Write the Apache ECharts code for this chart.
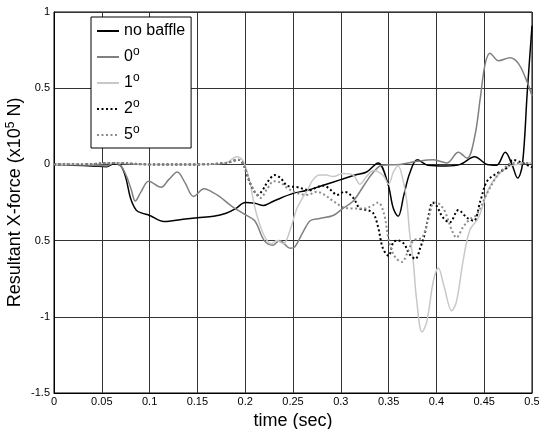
<!DOCTYPE html>
<html>
<head>
<meta charset="utf-8">
<script src="https://cdn.jsdelivr.net/npm/echarts@6/dist/echarts.min.js"></script>
<style>html,body{margin:0;padding:0;background:#fff}#c{width:539px;height:429px}</style>
</head>
<body>
<div id="c"></div>
<script>
// ---- data ----
const xTickLabels = ['0','0.05','0.1','0.15','0.2','0.25','0.3','0.35','0.4','0.45','0.5'];
const yTickLabels = ['-1.5','-1','0.5','0','0.5','1'];
const seriesNames = ['no baffle','0°','1°','2°','5°'];

const noBaffleT = [0,0.02,0.04,0.055,0.063,0.07,0.075,0.08,0.086,0.092,0.1,0.115,0.135,0.15,0.167,0.18,0.19,0.2,0.21,0.219,0.23,0.25,0.265,0.28,0.3,0.315,0.327,0.339,0.349,0.355,0.36,0.366,0.372,0.38,0.391,0.41,0.425,0.44,0.453,0.463,0.472,0.479,0.485,0.49,0.495,0.5];
const noBaffleV = [0,-0.005,-0.01,-0.015,0.005,-0.01,-0.085,-0.22,-0.3,-0.32,-0.335,-0.375,-0.36,-0.35,-0.34,-0.32,-0.29,-0.25,-0.255,-0.27,-0.24,-0.19,-0.17,-0.14,-0.1,-0.07,-0.05,0.01,-0.12,-0.29,-0.34,-0.2,-0.06,0.03,-0.005,-0.01,0,0.05,0,-0.005,0.08,0,-0.09,0,0.47,0.91];

const deg0T = [0,0.02,0.04,0.055,0.063,0.07,0.076,0.081,0.085,0.091,0.099,0.112,0.12,0.129,0.137,0.146,0.157,0.165,0.173,0.185,0.2,0.21,0.22,0.229,0.236,0.247,0.252,0.26,0.268,0.278,0.292,0.302,0.313,0.324,0.333,0.343,0.362,0.38,0.397,0.411,0.423,0.432,0.44,0.446,0.451,0.456,0.465,0.477,0.486,0.495,0.5];
const deg0V = [0,0,-0.005,-0.01,0.01,-0.01,-0.08,-0.17,-0.24,-0.18,-0.11,-0.15,-0.1,-0.05,-0.12,-0.21,-0.16,-0.18,-0.21,-0.27,-0.33,-0.37,-0.5,-0.53,-0.5,-0.55,-0.54,-0.45,-0.37,-0.355,-0.335,-0.29,-0.24,-0.14,-0.06,-0.005,0,0.02,0.03,0.01,0.08,0.04,0.18,0.44,0.66,0.73,0.68,0.7,0.66,0.54,0.45];

const deg1T = [0,0.03,0.063,0.1,0.15,0.18,0.191,0.198,0.205,0.209,0.213,0.22,0.227,0.233,0.24,0.247,0.254,0.26,0.265,0.271,0.278,0.285,0.292,0.302,0.313,0.32,0.327,0.334,0.344,0.35,0.355,0.36,0.365,0.369,0.372,0.376,0.379,0.385,0.39,0.397,0.402,0.408,0.416,0.421,0.428,0.435,0.444,0.454,0.463,0.474,0.485,0.5];
const deg1V = [0,0,0.01,0,0,0.01,0.05,0.02,-0.12,-0.25,-0.35,-0.47,-0.52,-0.5,-0.52,-0.43,-0.29,-0.22,-0.17,-0.1,-0.07,-0.07,-0.08,-0.06,-0.07,-0.13,-0.08,-0.04,-0.07,-0.13,-0.05,-0.01,-0.1,-0.24,-0.45,-0.65,-0.87,-1.1,-1.03,-0.76,-0.68,-0.8,-0.96,-0.9,-0.63,-0.43,-0.35,-0.17,-0.08,-0.02,0,0.01];

const deg2T = [0,0.03,0.063,0.1,0.15,0.18,0.193,0.198,0.203,0.208,0.213,0.218,0.224,0.231,0.237,0.244,0.255,0.268,0.275,0.282,0.29,0.296,0.304,0.313,0.32,0.328,0.334,0.339,0.344,0.35,0.355,0.36,0.366,0.372,0.378,0.383,0.388,0.392,0.396,0.4,0.407,0.414,0.423,0.432,0.439,0.446,0.453,0.463,0.474,0.48,0.49,0.5];
const deg2V = [0,0,0.01,0,0,0.01,0.03,0,-0.09,-0.16,-0.2,-0.17,-0.11,-0.07,-0.09,-0.14,-0.15,-0.17,-0.15,-0.14,-0.17,-0.2,-0.18,-0.22,-0.29,-0.3,-0.32,-0.41,-0.55,-0.6,-0.51,-0.5,-0.52,-0.59,-0.62,-0.55,-0.45,-0.33,-0.25,-0.27,-0.35,-0.38,-0.3,-0.35,-0.37,-0.24,-0.11,-0.06,-0.02,0.03,0.01,-0.02];

const deg5T = [0,0.03,0.063,0.1,0.15,0.18,0.193,0.198,0.204,0.21,0.216,0.223,0.23,0.237,0.245,0.255,0.265,0.275,0.283,0.292,0.302,0.313,0.324,0.333,0.339,0.345,0.351,0.357,0.364,0.369,0.376,0.385,0.391,0.398,0.403,0.409,0.416,0.421,0.428,0.435,0.442,0.453,0.463,0.47,0.48,0.49,0.5];
const deg5V = [0,0,0.01,0,0,0.01,0.03,0,-0.1,-0.18,-0.22,-0.16,-0.11,-0.12,-0.16,-0.19,-0.2,-0.18,-0.2,-0.24,-0.28,-0.29,-0.29,-0.27,-0.25,-0.32,-0.52,-0.61,-0.64,-0.59,-0.5,-0.48,-0.37,-0.25,-0.26,-0.31,-0.43,-0.48,-0.41,-0.36,-0.33,-0.19,-0.08,-0.03,0.01,0.01,0.01];

const xMin = 0, xMax = 0.5, xStep = 0.05;
const yMin = -1.5, yMax = 1, yStep = 0.5;

// ---- chart ----
const zip = (t, v) => t.map((x, i) => [x, v[i]]);
const FONT = '"Liberation Sans", Arial, sans-serif';
const chart = echarts.init(document.getElementById('c'), null, {renderer: 'canvas'});

const styles = [
  {color: '#000000', width: 1.5, type: 'solid'},
  {color: '#808080', width: 1.5, type: 'solid'},
  {color: '#c8c8c8', width: 1.5, type: 'solid'},
  {color: '#000000', width: 2, type: [2, 2.5]},
  {color: '#8c8c8c', width: 2, type: [2, 2.5]}
];
const datasets = [zip(noBaffleT, noBaffleV), zip(deg0T, deg0V), zip(deg1T, deg1V), zip(deg2T, deg2V), zip(deg5T, deg5V)];

chart.setOption({
  animation: false,
  backgroundColor: '#fff',
  grid: {left: 54, right: 7, top: 12, bottom: 36, show: true, borderColor: '#000', borderWidth: 1,
         containLabel: false, outerBoundsMode: 'none'},
  legend: {
    orient: 'vertical', left: 91, top: 17,
    padding: [6, 6, 5, 5], itemGap: 7, itemWidth: 22, itemHeight: 14,
    backgroundColor: '#fff', borderColor: '#000', borderWidth: 1, borderRadius: 0,
    itemStyle: {opacity: 0},
    data: seriesNames,
    formatter: n => n.endsWith('°') ? '{n|' + n.slice(0, -1) + '}{s|o}' : '{n|' + n + '}',
    textStyle: {
      fontFamily: FONT, fontSize: 16, color: '#000',
      rich: {
        n: {fontFamily: FONT, fontSize: 16, color: '#000', lineHeight: 22},
        s: {fontFamily: FONT, fontSize: 12, color: '#000', lineHeight: 11, verticalAlign: 'top'}
      }
    }
  },
  xAxis: {
    type: 'value', min: xMin, max: xMax, interval: xStep,
    name: 'time (sec)', nameLocation: 'middle', nameGap: 14,
    nameTextStyle: {fontFamily: FONT, fontSize: 18, color: '#000'},
    axisLine: {show: true, onZero: false, lineStyle: {color: '#000', width: 1}},
    axisTick: {show: false},
    axisLabel: {
      fontFamily: FONT, fontSize: 11, color: '#000', margin: 3,
      formatter: v => xTickLabels[Math.round((v - xMin) / xStep)]
    },
    splitLine: {show: true, lineStyle: {color: '#333', width: 1}}
  },
  yAxis: {
    type: 'value', min: yMin, max: yMax, interval: yStep,
    name: '{a|Resultant X-force (x10}{s|5}{a| N)}', nameLocation: 'middle', nameGap: 29,
    nameMoveOverlap: false,
    nameTextStyle: {
      fontFamily: FONT, fontSize: 18, color: '#000',
      rich: {
        a: {fontFamily: FONT, fontSize: 18, color: '#000', lineHeight: 20},
        s: {fontFamily: FONT, fontSize: 12, color: '#000', lineHeight: 12, verticalAlign: 'top'}
      }
    },
    axisLine: {show: true, onZero: false, lineStyle: {color: '#000', width: 1}},
    axisTick: {show: false},
    axisLabel: {
      fontFamily: FONT, fontSize: 11, color: '#000', margin: 4,
      formatter: v => yTickLabels[Math.round((v - yMin) / yStep)]
    },
    splitLine: {show: true, lineStyle: {color: '#333', width: 1}}
  },
  series: seriesNames.map((n, i) => ({
    name: n, type: 'line', data: datasets[i],
    showSymbol: false, symbol: 'none', smooth: 0.35,
    lineStyle: styles[i], itemStyle: {color: styles[i].color},
    emphasis: {disabled: true}, z: 2 + i
  }))
});
</script>
</body>
</html>
